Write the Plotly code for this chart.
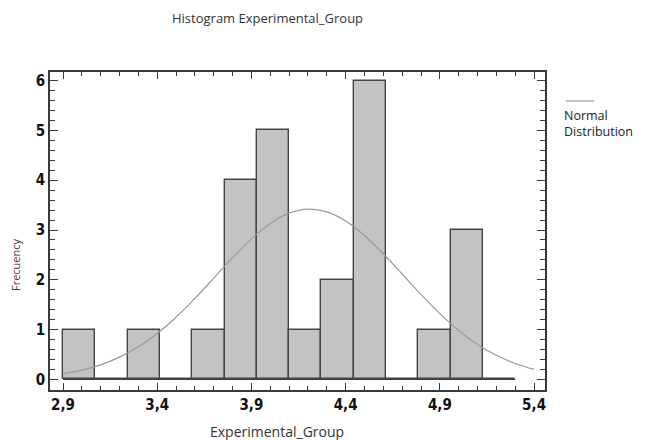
import plotly.graph_objects as go

# ---- data ----
bin_start = 2.9
bin_width = 0.1714285714
counts = [1, 0, 1, 0, 1, 4, 5, 1, 2, 6, 0, 1, 3, 0]

curve_x = [2.9, 3.0, 3.1, 3.2, 3.3, 3.4, 3.5, 3.6, 3.7, 3.8, 3.9, 4.0, 4.1,
           4.2, 4.3, 4.4, 4.5, 4.6, 4.7, 4.8, 4.9, 5.0, 5.1, 5.2, 5.3, 5.4]
curve_y = [0.110, 0.183, 0.291, 0.445, 0.653, 0.921, 1.248, 1.625, 2.033, 2.444,
           2.822, 3.131, 3.338, 3.419, 3.365, 3.182, 2.891, 2.523, 2.116, 1.705,
           1.320, 0.982, 0.701, 0.482, 0.318, 0.201]

x_tickvals = [2.9, 3.4, 3.9, 4.4, 4.9, 5.4]
x_ticktext = ["2,9", "3,4", "3,9", "4,4", "4,9", "5,4"]
y_tickvals = [0, 1, 2, 3, 4, 5, 6]

title_text = "Histogram Experimental_Group"
x_title = "Experimental_Group"
y_title = "Frecuency"
legend_lines = ["Normal", "Distribution"]

# ---- derived ----
centers = [bin_start + bin_width * (i + 0.5) for i in range(len(counts))]
edges_end = bin_start + bin_width * len(counts)

tick_font = dict(family="Liberation Sans Narrow, DejaVu Sans Condensed, Arial Narrow, sans-serif",
                 size=15, color="#111111", weight="bold")
text_font = dict(family="Open Sans, Noto Sans, sans-serif", size=11, color="#333333")
axis_col = "#3a3a3a"

fig = go.Figure()
fig.add_trace(go.Scatter(x=[bin_start, edges_end], y=[0, 0], mode="lines",
                         line=dict(color="#404040", width=1.5), hoverinfo="skip"))
fig.add_trace(go.Bar(x=centers, y=counts, width=bin_width,
                     marker=dict(color="#c3c3c3", line=dict(color="#444444", width=1.4))))
fig.add_trace(go.Scatter(x=curve_x, y=curve_y, mode="lines",
                         line=dict(color="#9a9a9a", width=1.2, shape="spline")))

fig.update_layout(
    width=645, height=440,
    margin=dict(l=50, r=100, t=72, b=50),
    plot_bgcolor="white", paper_bgcolor="white",
    showlegend=False,
    bargap=0,
    separators=",.",
)
fig.update_xaxes(range=[2.831, 5.458], showgrid=False, zeroline=False,
                 showline=True, linecolor=axis_col, linewidth=1.5, mirror="ticks",
                 ticks="inside", ticklen=7, tickwidth=1, tickcolor=axis_col,
                 tickvals=x_tickvals, ticktext=x_ticktext, tickfont=tick_font,
                 minor=dict(dtick=0.1, tick0=2.9, ticks="inside", ticklen=4,
                            tickcolor=axis_col, showgrid=False))
fig.update_yaxes(range=[-0.215, 6.175], showgrid=False, zeroline=False,
                 showline=True, linecolor=axis_col, linewidth=1.5, mirror="ticks",
                 ticks="inside", ticklen=8, tickwidth=1, tickcolor=axis_col,
                 tickvals=y_tickvals, tickfont=tick_font,
                 minor=dict(dtick=0.2, tick0=0, ticks="inside", ticklen=5,
                            tickcolor=axis_col, showgrid=False))

def px_x(p):
    return (p - 50) / 495

def px_y(p):
    return (390 - p) / 318

fig.add_annotation(text=title_text, xref="paper", yref="paper",
                   x=px_x(267), y=px_y(18), showarrow=False,
                   font=dict(text_font, size=13), xanchor="center", yanchor="middle")
fig.add_annotation(text=x_title, xref="paper", yref="paper",
                   x=px_x(277), y=px_y(431), showarrow=False,
                   font=dict(text_font, size=14), xanchor="center", yanchor="middle")
fig.add_annotation(text=y_title, xref="paper", yref="paper",
                   x=px_x(15), y=px_y(265), showarrow=False, textangle=-90,
                   font=dict(text_font, size=11, color="#4a3a30"), xanchor="center", yanchor="middle")

fig.add_shape(type="line", xref="paper", yref="paper",
              x0=px_x(566), x1=px_x(594), y0=px_y(101), y1=px_y(101),
              line=dict(color="#9a9a9a", width=1.2))
fig.add_annotation(text="<br>".join(legend_lines), xref="paper", yref="paper",
                   x=px_x(562), y=px_y(105), showarrow=False, align="left",
                   font=dict(text_font, size=12.5, color="#222222"),
                   xanchor="left", yanchor="top")

fig.write_html("out.html", config={"displayModeBar": False})
with open("out.html", encoding="utf-8") as f:
    html = f.read()
html = html.replace("<head>", "<head><style>html,body{margin:0;padding:0;overflow:hidden;}</style>", 1)
with open("out.html", "w", encoding="utf-8") as f:
    f.write(html)
